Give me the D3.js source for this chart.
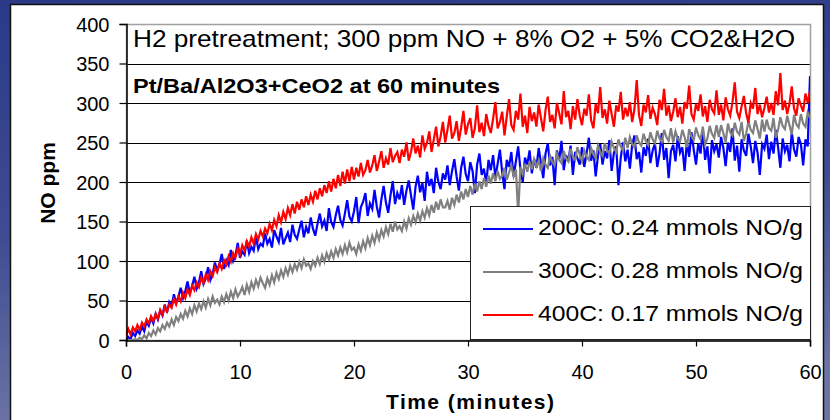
<!DOCTYPE html>
<html>
<head>
<meta charset="utf-8">
<script src="https://cdn.jsdelivr.net/npm/d3@7"></script>
<style>
  html, body { margin: 0; padding: 0; background: #2B3A88; }
  svg { display: block; }
  text { font-family: "Liberation Sans", Arial, sans-serif; }
</style>
</head>
<body>
<svg id="chart" width="830" height="420"></svg>
<script>
// NO outlet concentration (ppm), sampled every 0.2 min from 0 to 60 min
const sampleStep = 0.2;

const no200C = [
  0, 4, 1, 9, 5, 12, 8, 17, 11, 23, 18, 28, 21, 33, 26, 37, 31, 45, 35, 48,
  43, 58, 47, 55, 66, 53, 62, 74, 59, 68, 80, 65, 73, 87, 71, 78, 92, 76, 84, 98,
  88, 96, 109, 90, 101, 95, 114, 100, 107, 123, 104, 112, 108, 126, 110, 118, 113, 131, 115, 122,
  119, 135, 122, 128, 117, 139, 131, 124, 142, 121, 129, 136, 124, 146, 133, 128, 140, 151, 130, 143,
  135, 155, 141, 132, 147, 160, 144, 151, 138, 167, 149, 143, 158, 170, 152, 145, 160, 177, 156, 150,
  163, 181, 148, 168, 175, 186, 157, 173, 166, 190, 169, 155, 178, 195, 174, 161, 183, 201, 172, 186,
  178, 196, 171, 189, 202, 183, 165, 194, 208, 187, 199, 176, 213, 195, 204, 186, 218, 200, 191, 211,
  203, 221, 196, 214, 229, 207, 189, 218, 232, 210, 201, 225, 214, 186, 222, 236, 209, 217, 198, 228,
  215, 234, 206, 223, 241, 212, 191, 228, 219, 238, 207, 226, 245, 216, 200, 231, 222, 240, 211, 229,
  218, 243, 224, 205, 236, 249, 221, 232, 196, 240, 228, 252, 215, 234, 226, 246, 209, 238, 230, 222,
  244, 219, 236, 256, 227, 240, 207, 233, 248, 222, 239, 230, 253, 214, 237, 245, 196, 231, 250, 226,
  241, 217, 247, 259, 229, 238, 212, 244, 233, 255, 224, 240, 249, 219, 236, 262, 228, 243, 205, 239,
  247, 226, 258, 237, 244, 214, 251, 232, 263, 241, 222, 249, 236, 266, 228, 245, 211, 253, 239, 248,
  231, 257, 243, 220, 250, 238, 268, 227, 246, 213, 254, 240, 233, 261, 245, 224, 252, 237, 209, 248,
  242, 260, 229, 251, 236, 266, 244, 218, 255, 239, 247, 226, 263, 241, 232, 257, 248, 221, 254, 245,
  334
];

const no300C = [
  0, 0, 0, 0, 1, 0, 3, 1, 6, 2, 9, 5, 12, 7, 15, 11, 19, 14, 22, 17,
  26, 19, 29, 24, 33, 27, 37, 30, 40, 33, 44, 36, 46, 39, 49, 41, 52, 44, 55, 47,
  51, 45, 55, 48, 58, 50, 61, 53, 64, 55, 60, 67, 57, 70, 61, 73, 65, 76, 68, 79,
  72, 66, 78, 70, 82, 73, 85, 77, 88, 80, 91, 83, 94, 86, 96, 89, 99, 91, 102, 94,
  97, 90, 100, 94, 104, 96, 107, 99, 110, 102, 112, 104, 115, 107, 117, 109, 120, 111, 123, 114,
  117, 109, 121, 113, 125, 116, 129, 120, 132, 123, 136, 127, 139, 131, 143, 134, 147, 137, 150, 140,
  144, 138, 150, 141, 154, 146, 157, 149, 160, 151, 163, 155, 167, 158, 171, 161, 175, 165, 178, 168,
  168, 176, 165, 180, 171, 184, 174, 188, 178, 191, 181, 195, 184, 198, 188, 201, 191, 205, 194, 208,
  198, 211, 201, 214, 204, 208, 218, 203, 212, 221, 207, 216, 160, 219, 210, 223, 213, 226, 216, 229,
  220, 227, 214, 230, 222, 218, 233, 225, 221, 236, 228, 224, 239, 230, 226, 242, 232, 228, 244, 235,
  226, 240, 232, 228, 243, 235, 230, 246, 238, 233, 249, 240, 236, 251, 243, 238, 254, 245, 240, 256,
  243, 257, 248, 244, 259, 250, 246, 261, 252, 247, 263, 254, 249, 265, 255, 251, 266, 257, 252, 268,
  250, 264, 255, 251, 266, 257, 244, 267, 258, 253, 269, 259, 254, 270, 248, 255, 271, 261, 256, 272,
  257, 272, 262, 250, 274, 263, 259, 275, 264, 260, 276, 252, 261, 277, 266, 262, 278, 267, 255, 279,
  264, 279, 268, 265, 281, 256, 266, 282, 271, 267, 284, 272, 260, 285, 273, 269, 286, 274, 270, 288,
  281
];

const no400C = [
  5, 14, 7, 16, 11, 19, 13, 22, 17, 26, 21, 30, 24, 33, 27, 38, 32, 42, 36, 45,
  41, 52, 45, 55, 49, 60, 53, 64, 57, 69, 63, 73, 67, 79, 72, 83, 76, 87, 81, 92,
  86, 97, 90, 101, 95, 106, 99, 110, 104, 116, 108, 120, 113, 125, 118, 130, 122, 134, 127, 138,
  131, 141, 135, 147, 139, 152, 144, 158, 149, 162, 153, 167, 158, 172, 160, 175, 165, 178, 168, 182,
  171, 184, 175, 189, 178, 192, 182, 196, 186, 201, 188, 204, 192, 209, 195, 213, 198, 216, 201, 219,
  203, 218, 207, 224, 209, 215, 228, 212, 221, 234, 214, 226, 239, 218, 230, 222, 243, 225, 233, 238,
  224, 241, 232, 250, 227, 238, 255, 236, 246, 231, 259, 242, 249, 264, 238, 254, 270, 245, 258, 276,
  250, 266, 284, 255, 262, 277, 252, 269, 290, 260, 273, 281, 256, 268, 297, 263, 275, 258, 286, 271,
  262, 280, 301, 268, 276, 289, 259, 283, 305, 272, 266, 290, 279, 312, 270, 284, 262, 295, 277, 288,
  270, 298, 281, 264, 291, 308, 276, 285, 268, 300, 287, 273, 315, 282, 290, 267, 296, 279, 305, 284,
  272, 293, 284, 311, 278, 268, 299, 287, 320, 281, 292, 274, 303, 286, 270, 297, 289, 314, 279, 294,
  283, 301, 276, 292, 329, 285, 271, 298, 288, 310, 280, 294, 286, 272, 304, 291, 318, 284, 297, 277,
  289, 306, 282, 295, 274, 301, 293, 322, 286, 279, 299, 290, 311, 283, 296, 276, 304, 292, 287, 316,
  285, 298, 278, 307, 292, 284, 301, 326, 289, 281, 296, 309, 287, 275, 300, 293, 319, 286, 298, 282,
  294, 308, 288, 300, 285, 315, 297, 338, 291, 303, 286, 299, 321, 293, 284, 306, 297, 289, 312, 300,
  316
];

const seriesLabels = [
  "200C: 0.24 mmols NO/g",
  "300C: 0.28 mmols NO/g",
  "400C: 0.17 mmols NO/g"
];
const seriesColors = ["#0000FF", "#808080", "#FF0000"];

const xTicks = [0, 10, 20, 30, 40, 50, 60];
const yTicks = [0, 50, 100, 150, 200, 250, 300, 350, 400];

const titleText = "H2 pretreatment; 300 ppm NO + 8% O2 + 5% CO2&H2O";
const subtitleText = "Pt/Ba/Al2O3+CeO2 at 60 minutes";
const xTitle = "Time (minutes)";
const yTitle = "NO ppm";

// ---- layout ----
const W = 830, H = 420;
const plot = { left: 126, right: 810, top: 24, bottom: 340 };

const svg = d3.select("#chart");

// slide background
const defs = svg.append("defs");
const bg = defs.append("linearGradient").attr("id", "slideBg")
  .attr("x1", 0).attr("y1", 0).attr("x2", 0.15).attr("y2", 1);
bg.append("stop").attr("offset", "0%").attr("stop-color", "#2B3A88");
bg.append("stop").attr("offset", "55%").attr("stop-color", "#3E4C92");
bg.append("stop").attr("offset", "100%").attr("stop-color", "#6C74A4");
svg.append("rect").attr("width", W).attr("height", H).attr("fill", "url(#slideBg)");

// chart panel
svg.append("rect")
  .attr("x", 10.5).attr("y", 4.5).attr("width", 813).attr("height", 430)
  .attr("fill", "#FFFFFF").attr("stroke", "#111").attr("stroke-width", 1.5);

const x = d3.scaleLinear().domain([0, 60]).range([plot.left, plot.right]);
const y = d3.scaleLinear().domain([0, 400]).range([plot.bottom, plot.top]);

// gridlines
svg.append("g")
  .selectAll("line")
  .data(yTicks.filter(v => v > 0 && v < 400))
  .join("line")
  .attr("x1", plot.left).attr("x2", plot.right)
  .attr("y1", d => Math.round(y(d)) + 0.5).attr("y2", d => Math.round(y(d)) + 0.5)
  .attr("stroke", "#000").attr("stroke-width", 1);

// plot area frame
svg.append("rect")
  .attr("x", plot.left + 0.5).attr("y", plot.top + 0.5)
  .attr("width", plot.right - plot.left).attr("height", plot.bottom - plot.top)
  .attr("fill", "none").attr("stroke", "#A0A0A0").attr("stroke-width", 1.5);

// data lines
defs.append("clipPath").attr("id", "plotClip")
  .append("rect")
  .attr("x", plot.left).attr("y", plot.top)
  .attr("width", plot.right - plot.left).attr("height", plot.bottom - plot.top);

const line = d3.line()
  .x((d, i) => x(i * sampleStep))
  .y(d => y(d));

const seriesData = [no200C, no300C, no400C];
svg.append("g").attr("clip-path", "url(#plotClip)")
  .selectAll("path")
  .data(seriesData)
  .join("path")
  .attr("d", d => line(d))
  .attr("fill", "none")
  .attr("stroke", (d, i) => seriesColors[i])
  .attr("stroke-width", 2.2)
  .attr("stroke-linejoin", "miter")
  .attr("stroke-miterlimit", 4);

// axes
const yAxis = d3.axisLeft(y).tickValues(yTicks).tickSize(7).tickPadding(10).tickFormat(d3.format("d"));
const gy = svg.append("g").attr("transform", `translate(${plot.left + 0.5},0)`).call(yAxis);
gy.select(".domain").attr("stroke", "#000").attr("stroke-width", 1.5);
gy.selectAll(".tick line").attr("stroke", "#000").attr("stroke-width", 1.2);
gy.selectAll(".tick text")
  .attr("font-size", 20).attr("fill", "#000")
  .attr("font-family", "'Liberation Sans', Arial, sans-serif")
  .attr("dy", "0.36em");

const xAxis = d3.axisBottom(x).tickValues(xTicks).tickSize(6).tickFormat(d3.format("d"));
const gx = svg.append("g").attr("transform", `translate(0,${plot.bottom + 0.5})`).call(xAxis);
gx.select(".domain").attr("stroke", "#000").attr("stroke-width", 1.5);
gx.selectAll(".tick line").attr("stroke", "#000").attr("stroke-width", 1.2);
gx.selectAll(".tick text")
  .attr("font-size", 20).attr("fill", "#000")
  .attr("font-family", "'Liberation Sans', Arial, sans-serif")
  .attr("y", 38).attr("dy", 0);

// axis titles
svg.append("text")
  .attr("x", 470).attr("y", 409)
  .attr("text-anchor", "middle")
  .attr("font-size", 21).attr("font-weight", "bold")
  .attr("textLength", 168).attr("lengthAdjust", "spacing")
  .text(xTitle);

svg.append("text")
  .attr("transform", "translate(55,183) rotate(-90)")
  .attr("text-anchor", "middle")
  .attr("font-size", 21).attr("font-weight", "bold")
  .text(yTitle);

// chart titles
svg.append("text")
  .attr("x", 133).attr("y", 47)
  .attr("font-size", 24)
  .attr("textLength", 662).attr("lengthAdjust", "spacingAndGlyphs")
  .text(titleText);

svg.append("text")
  .attr("x", 133).attr("y", 93)
  .attr("font-size", 21).attr("font-weight", "bold")
  .attr("textLength", 367).attr("lengthAdjust", "spacingAndGlyphs")
  .text(subtitleText);

// legend
const legend = svg.append("g");
legend.append("rect")
  .attr("x", 470.5).attr("y", 206.5).attr("width", 340).attr("height", 133)
  .attr("fill", "#FFFFFF").attr("stroke", "#222").attr("stroke-width", 1);

const legendRows = [229, 272, 315];
const items = legend.selectAll("g.item")
  .data(seriesLabels)
  .join("g").attr("class", "item")
  .attr("transform", (d, i) => `translate(0,${legendRows[i]})`);
items.append("line")
  .attr("x1", 483).attr("x2", 533).attr("y1", 0).attr("y2", 0)
  .attr("stroke", (d, i) => seriesColors[i]).attr("stroke-width", 2);
items.append("text")
  .attr("x", 538).attr("y", 6)
  .attr("font-size", 22)
  .attr("textLength", 265).attr("lengthAdjust", "spacingAndGlyphs")
  .text(d => d);
</script>
</body>
</html>
